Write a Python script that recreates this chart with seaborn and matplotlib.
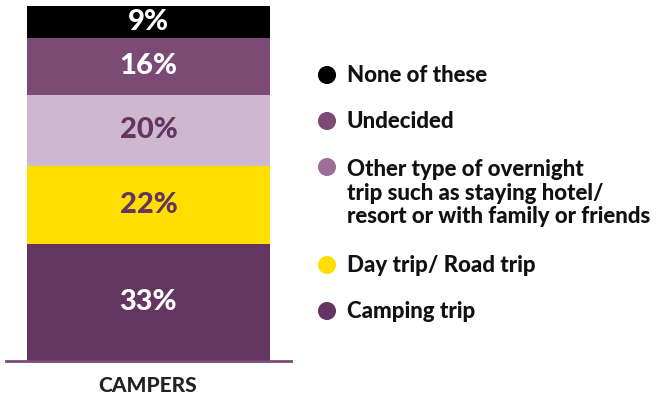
import matplotlib
matplotlib.use('Agg')
import matplotlib.pyplot as plt
import pandas as pd
import numpy as np
import seaborn as sns

# stacked from the bottom up
categories = ['Camping trip', 'Day trip/ Road trip',
              'Other type of overnight\ntrip such as staying hotel/\nresort or with family or friends',
              'Undecided', 'None of these']
values = [33, 22, 20, 16, 9]
group = ['CAMPERS']

bar_colors = ['#633560', '#ffde00', '#cdb8cf', '#7b4b75', '#000000']
legend_colors = ['#633560', '#ffde00', '#9c7096', '#7b4b75', '#000000']
label_colors = ['white', '#633560', '#633560', 'white', 'white']

sns.set_style('white')
plt.rcParams['font.family'] = ['Lato', 'DejaVu Sans']

fig = plt.figure(figsize=(6.67, 4), dpi=100)
ax = fig.add_axes([6 / 667, 39 / 400, 285 / 667, 355 / 400])

# draw cumulative totals, tallest first, so each segment sits on top of the next
cum = np.cumsum(values)
for i in range(len(values) - 1, -1, -1):
    df = pd.DataFrame({'group': group, 'total': [cum[i]]})
    sns.barplot(data=df, x='group', y='total', color=bar_colors[i],
                saturation=1, width=0.853, linewidth=0, ax=ax)

bottoms = cum - np.array(values)
for v, b, c in zip(values, bottoms, label_colors):
    ax.text(0, b + v / 2, f'{v}%', ha='center', va='center',
            fontsize=21, fontweight='black', color=c)

ax.set_xlim(-0.5, 0.5)
ax.set_ylim(0, 100)
ax.set_xticks([])
ax.set_yticks([])
ax.set_xlabel('')
ax.set_ylabel('')
for s in ['top', 'left', 'right']:
    ax.spines[s].set_visible(False)
ax.spines['bottom'].set_color('#7b4b75')
ax.spines['bottom'].set_linewidth(2)

fig.text(148 / 667, 1 - 386 / 400, group[0], ha='center', va='center',
         fontsize=15, fontweight='black', color='#222222')

# legend, top entry first
lax = fig.add_axes([0, 0, 1, 1])
lax.set_xlim(0, 667)
lax.set_ylim(400, 0)
lax.axis('off')
y = 75
for cat, col in zip(categories[::-1], legend_colors[::-1]):
    n = cat.count('\n') + 1
    lax.scatter([327], [y], s=170, color=col, edgecolor='none')
    lax.text(347, y + (n - 1) * 13, cat, ha='left', va='center',
             fontsize=16, fontweight='black', color='#111111', linespacing=1.15)
    y += 46 + (n - 1) * 26

fig.savefig('out.png', dpi=100)
